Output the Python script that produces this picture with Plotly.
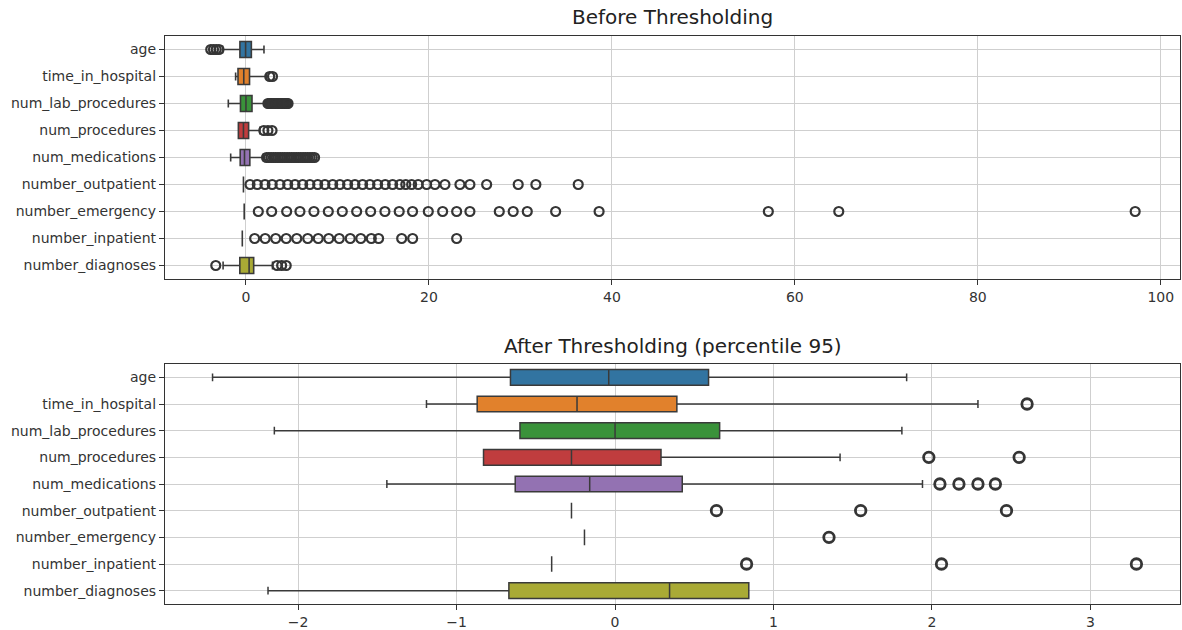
import plotly.graph_objects as go

categories = ["age", "time_in_hospital", "num_lab_procedures", "num_procedures",
              "num_medications", "number_outpatient", "number_emergency",
              "number_inpatient", "number_diagnoses"]

colors = ["#3274a1", "#e1812c", "#3a923a", "#c03d3e", "#9372b2",
          "#845b53", "#d684bd", "#7f7f7f", "#a9aa35"]

# ---- Before thresholding (box statistics) ----
before_q1 = [-0.66, -0.87, -0.60, -0.83, -0.63, -0.275, -0.193, -0.40, -0.67]
before_median = [-0.04, -0.24, 0.00, -0.275, -0.16, -0.275, -0.193, -0.40, 0.344]
before_q3 = [0.59, 0.39, 0.66, 0.29, 0.424, -0.275, -0.193, -0.40, 0.844]
before_lower = [-2.55, -1.13, -1.93, -0.83, -1.67, -0.275, -0.193, -0.40, -2.5]
before_upper = [1.97, 2.26, 2.26, 1.53, 1.90, -0.275, -0.193, -0.40, 2.9]
before_outliers = [
    [-3.85, -3.55, -3.25, -2.95],
    [2.6, 2.9],
    [2.4, 2.55, 2.7, 2.85, 3.0, 3.15, 3.3, 3.45, 3.6, 3.75, 3.9, 4.05, 4.2, 4.35, 4.5, 4.6],
    [1.95, 2.4, 2.85],
    [2.25, 2.5, 2.75, 3.0, 3.25, 3.5, 3.75, 4.0, 4.25, 4.5, 4.75, 5.0, 5.25, 5.5,
     5.75, 6.0, 6.25, 6.5, 6.75, 7.0, 7.25, 7.5],
    [0.44, 1.24, 2.08, 2.87, 3.72, 4.56, 5.36, 6.20, 6.99, 7.84, 8.63, 9.48, 10.27,
     11.11, 11.91, 12.75, 13.55, 14.39, 15.22, 16.03, 16.83, 17.47, 18.11, 18.83,
     19.75, 20.66, 21.75, 23.39, 24.48, 26.31, 29.76, 31.69, 36.32],
    [1.35, 2.81, 4.45, 5.90, 7.43, 9.00, 10.53, 12.10, 13.63, 15.19, 16.75, 18.21,
     19.93, 21.50, 23.03, 24.48, 27.69, 29.21, 30.75, 33.85, 38.6, 57.1, 64.8, 97.2],
    [0.95, 2.10, 3.25, 4.40, 5.55, 6.75, 7.90, 9.05, 10.20, 11.40, 12.55, 13.70,
     14.50, 17.02, 18.22, 23.03],
    [-3.3, 3.4, 3.9, 4.4],
]

# ---- After thresholding (percentile 95) ----
after_q1 = [-0.66, -0.87, -0.60, -0.83, -0.63, -0.275, -0.193, -0.40, -0.67]
after_median = [-0.04, -0.24, 0.00, -0.275, -0.16, -0.275, -0.193, -0.40, 0.344]
after_q3 = [0.59, 0.39, 0.66, 0.29, 0.424, -0.275, -0.193, -0.40, 0.844]
after_lower = [-2.54, -1.19, -2.15, -0.83, -1.44, -0.275, -0.193, -0.40, -2.19]
after_upper = [1.84, 2.29, 1.81, 1.42, 1.94, -0.275, -0.193, -0.40, 0.844]
after_outliers = [
    [],
    [2.60],
    [],
    [1.98, 2.55],
    [2.05, 2.17, 2.29, 2.40],
    [0.64, 1.55, 2.47],
    [1.35],
    [0.83, 2.06, 3.29],
    [],
]

top_xticks = [0, 20, 40, 60, 80, 100]
bottom_xticks = [-2, -1, 0, 1, 2, 3]

W, H = 1182, 630
x_dom = [165 / W, 1180 / W]
top_dom = [1 - 279 / H, 1 - 36 / H]
bot_dom = [1 - 604 / H, 1 - 364 / H]

fig = go.Figure()

edge = "#3a3a3a"


def add_panel(q1, med, q3, lo, hi, outs, xa, ya, msize, mwidth, lw):
    for i, cat in enumerate(categories):
        fig.add_trace(go.Box(
            y=[cat], q1=[q1[i]], median=[med[i]], q3=[q3[i]],
            lowerfence=[lo[i]], upperfence=[hi[i]],
            orientation="h", fillcolor=colors[i],
            line=dict(color=edge, width=lw), whiskerwidth=0.5,
            boxpoints=False, showlegend=False, xaxis=xa, yaxis=ya,
            hoverinfo="skip",
        ))
    ox, oy = [], []
    for i, cat in enumerate(categories):
        for v in outs[i]:
            ox.append(v)
            oy.append(cat)
    fig.add_trace(go.Scatter(
        x=ox, y=oy, mode="markers", xaxis=xa, yaxis=ya, showlegend=False,
        marker=dict(symbol="circle-open", size=msize, color="#353535",
                    line=dict(width=mwidth, color="#353535")),
        hoverinfo="skip",
    ))


add_panel(before_q1, before_median, before_q3, before_lower, before_upper,
          before_outliers, "x", "y", 9, 2.2, 1.6)
add_panel(after_q1, after_median, after_q3, after_lower, after_upper,
          after_outliers, "x2", "y2", 10.5, 2.8, 1.5)

axis_common = dict(showline=True, mirror=True, linecolor="#333333", linewidth=1.3,
                   ticks="outside", ticklen=5, tickcolor="#333333", tickwidth=1,
                   showgrid=True, gridcolor="#cfcfcf", gridwidth=1, zeroline=False,
                   tickfont=dict(family="DejaVu Sans", size=14, color="#333333"))

fig.update_layout(
    width=W, height=H, margin=dict(l=0, r=0, t=0, b=0),
    paper_bgcolor="white", plot_bgcolor="white",
    boxmode="overlay", boxgap=0.16,
    font=dict(family="DejaVu Sans", color="#333333"),
    xaxis=dict(domain=x_dom, anchor="y", range=[-8.85, 102.1],
               tickvals=top_xticks, **axis_common),
    yaxis=dict(domain=top_dom, anchor="x", type="category",
               categoryorder="array", categoryarray=categories,
               range=[8.5, -0.5], **axis_common),
    xaxis2=dict(domain=x_dom, anchor="y2", range=[-2.84, 3.565],
                tickvals=bottom_xticks, ticktext=["\u22122", "\u22121", "0", "1", "2", "3"],
                **axis_common),
    yaxis2=dict(domain=bot_dom, anchor="x2", type="category",
                categoryorder="array", categoryarray=categories,
                range=[8.5, -0.5], **axis_common),
    annotations=[
        dict(text="Before Thresholding", x=(x_dom[0] + x_dom[1]) / 2, y=1 - 17 / H,
             xref="paper", yref="paper", showarrow=False, xanchor="center",
             yanchor="middle", font=dict(family="DejaVu Sans", size=20, color="#222222")),
        dict(text="After Thresholding (percentile 95)", x=(x_dom[0] + x_dom[1]) / 2,
             y=1 - 346 / H, xref="paper", yref="paper", showarrow=False,
             xanchor="center", yanchor="middle",
             font=dict(family="DejaVu Sans", size=20, color="#222222")),
    ],
)

fig.write_html("out.html")
